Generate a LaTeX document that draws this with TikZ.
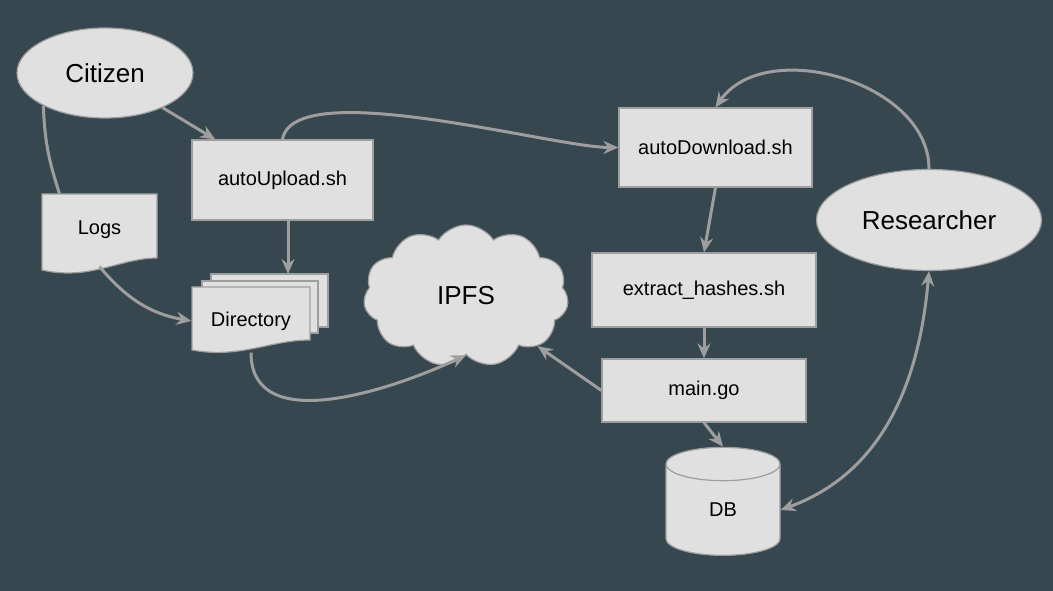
\documentclass[tikz,border=0pt]{standalone}
\usepackage{fontspec}
\setmainfont{Liberation Sans}
\usetikzlibrary{shapes.geometric,shapes.symbols,arrows.meta,calc}

\definecolor{bgslate}{HTML}{37474F}
\definecolor{boxfill}{HTML}{E0E0E0}
\definecolor{boxline}{HTML}{9E9E9E}
\definecolor{captop}{HTML}{EEEEEE}

\begin{document}
\begin{tikzpicture}[x=1pt,y=1pt,
  shp/.style={fill=boxfill, draw=boxline, line width=1.2pt, inner sep=0pt,
    font=\fontsize{20}{24}\selectfont},
  box/.style={shp, rectangle},
  actor/.style={shp, ellipse, font=\fontsize{26}{30}\selectfont},
  wire/.style={draw=boxline, line width=3pt},
  arr/.style={wire, -{Stealth[length=15pt,width=13pt,inset=5pt]}},
  both/.style={wire, {Stealth[length=15pt,width=13pt,inset=5pt]}-{Stealth[length=15pt,width=13pt,inset=5pt]}}]

  \fill[bgslate] (0,0) rectangle (1053,591);
  \useasboundingbox (0,0) rectangle (1053,591);

  % the two people
  \node[actor, minimum width=176pt, minimum height=90pt] (citizen) at (105,518) {Citizen};
  \node[actor, minimum width=225pt, minimum height=101pt] (researcher) at (929,371) {Researcher};

  % scripts
  \node[box, minimum width=181pt, minimum height=80pt] (upload) at (282.5,411) {autoUpload.sh};
  \node[box, minimum width=193pt, minimum height=79pt] (download) at (715.5,443.5) {autoDownload.sh};
  \node[box, minimum width=224pt, minimum height=74pt] (extract) at (704,301) {extract\_hashes.sh};
  \node[box, minimum width=204pt, minimum height=63pt] (maingo) at (704,200.5) {main.go};

  % logs (document)
  \filldraw[fill=boxfill, draw=boxline, line width=1.2pt]
    (42,397) -- (157,397) -- (157,333) .. controls (120,333) and (90,310) .. (42,321) -- cycle;
  \node[shp, draw=none, fill=none, minimum width=115pt, minimum height=72pt] (logs) at (99.5,361) {Logs};

  % directory (stack of documents)
  \filldraw[fill=boxfill, draw=boxline, line width=1.2pt] (211,264) rectangle (328,317);
  \filldraw[fill=boxfill, draw=boxline, line width=1.2pt] (202,258) rectangle (318,310);
  \filldraw[fill=boxfill, draw=boxline, line width=1.2pt]
    (192,304) -- (310,304) -- (310,251) .. controls (270,251) and (240,232) .. (192,241) -- cycle;
  \node[shp, draw=none, fill=none, minimum width=118pt, minimum height=62pt] (dir) at (251,270) {Directory};
  \coordinate (dirtop) at (288,317);

  % storage
  \node[shp, cloud, cloud puffs=11, cloud puff arc=115, aspect=1.45,
    minimum width=205pt, minimum height=142pt, font=\fontsize{26}{30}\selectfont] (ipfs) at (466,295) {IPFS};
  \node[shp, cylinder, shape border rotate=90, aspect=1.2,
    minimum width=114pt, minimum height=108pt, cylinder uses custom fill,
    cylinder body fill=boxfill, cylinder end fill=captop] (db) at (723,81) {DB};

  % connectors
  \draw[arr] (citizen) -- (upload);
  \draw[wire] (citizen.208) to[out=-88, in=108] ($(logs.north west)+(18,0)$);
  \draw[arr] (logs.south) to[out=-50, in=170] (dir.west);
  \draw[arr] (upload.south -| dirtop) -- (dirtop);
  \draw[arr] (upload.north) to[out=80, in=180, looseness=0.5] (download.west);
  \draw[arr] (dir.south) to[out=-90, in=205] (ipfs.south);
  \draw[arr] (maingo.west) -- (ipfs.-35);
  \draw[arr] (download.south) -- (extract.north);
  \draw[arr] (extract.south) -- (maingo.north);
  \draw[arr] (maingo.south) -- (db.north);
  \draw[arr] (researcher.north) to[out=90, in=55] (download.north);
  \draw[both] (db.east) to[out=20, in=-95] (researcher.south);

\end{tikzpicture}
\end{document}
